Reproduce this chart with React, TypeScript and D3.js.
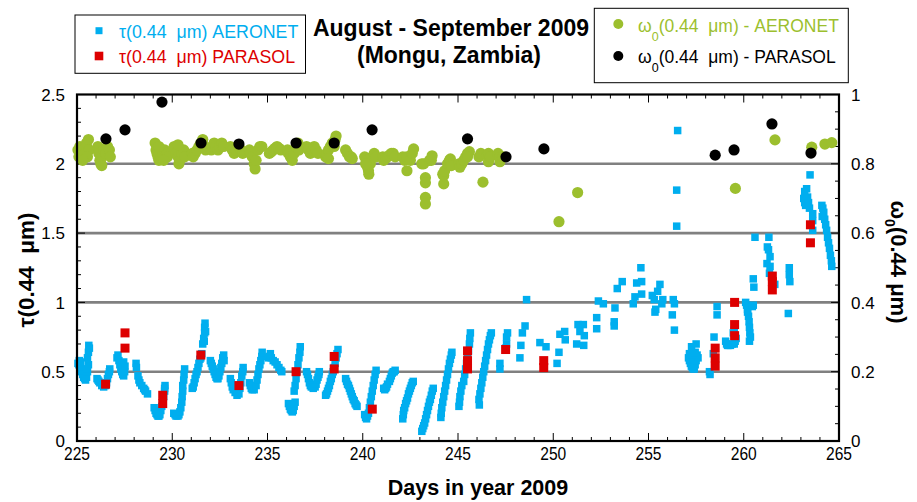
import React from "react";
import * as d3 from "d3";

// ---------------- DATA ----------------
const xTicks = [225, 230, 235, 240, 245, 250, 255, 260, 265];
const yLeftTicks = [0, 0.5, 1, 1.5, 2, 2.5];
const yRightTicks = [0, 0.2, 0.4, 0.6, 0.8, 1];
const gridValues = [0.5, 1, 1.5, 2];

// AERONET AOD at 0.44 µm: [day, tau]
const aeronetTau: [number, number][] = [
  [225.05,0.56],[225.1,0.55],[225.15,0.54],[225.2,0.52],[225.25,0.5],[225.3,0.48],[225.35,0.46],[225.4,0.45],[225.45,0.44],[225.5,0.46],[225.55,0.5],[225.5,0.52],[225.6,0.55],[225.55,0.6],[225.6,0.64],[225.65,0.67],[225.62,0.69],[225.12,0.58],[225.2,0.57],
  [226.05,0.45],[226.1,0.44],[226.15,0.43],[226.2,0.42],[226.3,0.4],[226.4,0.39],[226.5,0.4],[226.55,0.42],[226.6,0.45],[226.65,0.48],[226.7,0.5],[226.72,0.52],
  [227.1,0.6],[227.15,0.62],[227.2,0.58],[227.25,0.55],[227.3,0.52],[227.35,0.5],[227.4,0.48],[227.45,0.47],[227.5,0.5],[227.52,0.54],[227.45,0.57],
  [228.1,0.56],[228.12,0.53],[228.2,0.47],[228.25,0.44],[228.3,0.42],[228.4,0.4],[228.5,0.38],[228.55,0.37],[228.6,0.36],[228.7,0.34],
  [229.05,0.24],[229.1,0.22],[229.15,0.2],[229.2,0.19],[229.25,0.18],[229.3,0.18],[229.35,0.19],[229.4,0.22],[229.45,0.25],[229.5,0.28],[229.55,0.32],[229.6,0.36],[229.62,0.4],[229.6,0.38],
  [230.08,0.2],[230.15,0.19],[230.2,0.18],[230.3,0.18],[230.35,0.19],[230.4,0.21],[230.45,0.24],[230.5,0.28],[230.52,0.32],[230.55,0.36],[230.55,0.4],[230.6,0.44],[230.62,0.48],[230.65,0.52],
  [231.05,0.38],[231.1,0.39],[231.15,0.42],[231.2,0.45],[231.25,0.48],[231.3,0.5],[231.35,0.53],[231.4,0.56],[231.45,0.59],[231.5,0.6],[231.55,0.63],[231.6,0.7],[231.65,0.74],[231.7,0.78],[231.7,0.82],[231.72,0.85],[231.75,0.79],[231.68,0.72],
  [232.0,0.58],[232.05,0.56],[232.1,0.54],[232.15,0.52],[232.2,0.5],[232.25,0.48],[232.3,0.46],[232.35,0.45],[232.4,0.45],[232.45,0.47],[232.5,0.5],[232.55,0.53],[232.6,0.56],[232.65,0.6],[232.7,0.62],[232.72,0.58],
  [233.05,0.45],[233.1,0.42],[233.15,0.39],[233.2,0.37],[233.3,0.35],[233.4,0.33],[233.5,0.34],[233.55,0.38],[233.6,0.42],[233.65,0.47],[233.7,0.5],[233.72,0.53],
  [234.05,0.42],[234.1,0.4],[234.15,0.38],[234.2,0.37],[234.3,0.37],[234.4,0.4],[234.45,0.44],[234.5,0.48],[234.55,0.52],[234.6,0.55],[234.65,0.58],[234.7,0.61],[234.72,0.64],
  [235.05,0.6],[235.1,0.61],[235.2,0.6],[235.3,0.58],[235.4,0.57],[235.5,0.55],[235.6,0.53],[235.7,0.51],[235.75,0.5],[235.15,0.63],
  [236.1,0.27],[236.15,0.25],[236.2,0.23],[236.25,0.22],[236.3,0.21],[236.35,0.22],[236.4,0.25],[236.45,0.28],
  [236.4,0.36],[236.45,0.4],[236.5,0.45],[236.55,0.5],[236.6,0.55],[236.65,0.6],[236.7,0.64],[236.72,0.68],
  [237.05,0.5],[237.1,0.48],[237.15,0.45],[237.2,0.42],[237.25,0.4],[237.3,0.39],[237.4,0.38],[237.5,0.39],[237.55,0.41],[237.6,0.44],[237.65,0.46],[237.7,0.48],[237.72,0.5],
  [238.05,0.33],[238.1,0.34],[238.15,0.36],[238.2,0.38],[238.25,0.4],[238.3,0.43],[238.35,0.45],[238.4,0.48],[238.45,0.5],[238.5,0.53],[238.55,0.56],[238.6,0.6],[238.65,0.63],[238.7,0.66],
  [239.1,0.45],[239.15,0.43],[239.2,0.41],[239.25,0.4],[239.3,0.38],[239.35,0.36],[239.4,0.34],[239.45,0.32],[239.5,0.3],[239.55,0.29],[239.6,0.27],[239.65,0.26],[239.7,0.25],
  [240.1,0.19],[240.15,0.17],[240.2,0.16],[240.25,0.18],[240.3,0.2],[240.35,0.24],[240.4,0.28],[240.45,0.32],[240.5,0.36],[240.55,0.4],[240.6,0.44],[240.65,0.48],[240.7,0.51],
  [241.1,0.38],[241.15,0.37],[241.2,0.38],[241.25,0.39],[241.3,0.41],[241.4,0.43],[241.45,0.45],[241.5,0.47],[241.55,0.49],[241.6,0.5],[241.65,0.5],[241.7,0.51],
  [242.1,0.16],[242.13,0.19],[242.15,0.22],[242.2,0.24],[242.25,0.27],[242.3,0.29],[242.35,0.31],[242.4,0.34],[242.45,0.36],[242.5,0.38],[242.55,0.4],[242.6,0.42],[242.65,0.43],
  [243.1,0.07],[243.15,0.09],[243.2,0.11],[243.25,0.13],[243.3,0.16],[243.35,0.19],[243.4,0.22],[243.45,0.25],[243.5,0.28],[243.55,0.3],[243.6,0.33],[243.65,0.36],[243.7,0.38],
  [244.1,0.17],[244.12,0.2],[244.15,0.24],[244.2,0.28],[244.25,0.32],[244.3,0.36],[244.35,0.4],[244.4,0.44],[244.45,0.48],[244.5,0.52],[244.55,0.56],[244.6,0.59],[244.65,0.62],[244.68,0.64],
  [245.05,0.25],[245.08,0.28],[245.1,0.32],[245.15,0.36],[245.2,0.4],[245.3,0.43],[245.35,0.48],[245.4,0.52],[245.45,0.56],[245.5,0.6],[245.55,0.65],[245.6,0.7],[245.62,0.74],[245.65,0.78],
  [246.1,0.3],[246.12,0.26],[246.15,0.34],[246.2,0.38],[246.25,0.42],[246.3,0.46],[246.35,0.5],[246.4,0.54],[246.45,0.58],[246.5,0.62],[246.55,0.66],[246.6,0.7],[246.65,0.73],[246.7,0.76],[246.75,0.78],
  [247.2,0.56],[247.2,0.52],[247.5,0.67],[247.55,0.7],[247.55,0.75],[247.6,0.78],
  [248.25,0.6],[248.3,0.69],[248.38,0.78],[248.52,0.83],[248.6,1.02],
  [249.3,0.71],[249.62,0.68],[250.2,0.56],[250.3,0.64],[250.35,0.77],[250.6,0.79],[250.63,0.73],
  [251.23,0.7],[251.3,0.84],[251.4,0.79],[251.58,0.84],[251.63,0.76],[251.6,0.69],
  [252.28,0.89],[252.28,0.81],[252.37,1.01],[252.63,0.99],
  [253.2,0.86],[253.2,0.83],[253.24,0.96],[253.36,1.1],[253.62,1.15],
  [254.2,0.99],[254.29,1.04],[254.38,1.14],[254.6,1.25],[254.64,1.06],[254.64,1.15],
  [255.2,1.05],[255.3,1.02],[255.34,0.93],[255.38,0.95],[255.48,1.08],[255.6,1.13],[255.7,0.99],[255.75,1.02],
  [256.25,0.91],[256.3,1.02],[256.36,0.99],[256.36,0.8],[256.48,1.55],[256.48,1.81],[256.53,2.24],
  [257.1,0.6],[257.15,0.58],[257.2,0.56],[257.25,0.54],[257.3,0.53],[257.35,0.52],[257.4,0.52],[257.45,0.55],[257.5,0.58],[257.55,0.62],[257.6,0.6],[257.15,0.63],[257.26,0.68],[257.5,0.7],[257.3,0.62],[257.45,0.64],
  [258.2,0.5],[258.23,0.48],[258.4,0.63],[258.44,0.75],[258.6,0.97],[258.6,0.91],
  [259.05,0.72],[259.1,0.7],[259.15,0.69],[259.2,0.69],[259.3,0.69],[259.4,0.7],[259.5,0.7],[259.55,0.72],[259.6,0.74],[259.45,0.78],[259.5,0.8],
  [260.1,1.0],[260.15,0.98],[260.2,0.95],[260.25,0.9],[260.28,0.86],[260.3,0.82],[260.32,0.78],[260.35,0.75],[260.3,0.72],[260.45,0.97],[260.5,0.98],[260.2,0.93],[260.5,1.17],[260.53,1.11],[260.59,1.47],
  [261.24,1.4],[261.3,1.38],[261.32,1.47],[261.38,1.33],[261.22,1.28],[261.38,1.26],[261.35,1.21],[261.63,1.13],
  [262.39,1.25],[262.39,1.2],[262.42,1.15],[262.34,0.92],
  [263.15,1.75],[263.2,1.72],[263.25,1.7],[263.3,1.73],[263.35,1.76],[263.4,1.72],[263.45,1.68],[263.2,1.8],[263.3,1.82],[263.48,1.92],[263.62,1.64],[263.62,1.59],[263.62,1.52],
  [264.1,1.7],[264.15,1.68],[264.2,1.65],[264.25,1.6],[264.3,1.56],[264.35,1.52],[264.4,1.47],[264.45,1.43],[264.5,1.39],[264.55,1.34],[264.6,1.3],[264.62,1.26],[264.12,1.62],
];

// PARASOL AOD at 0.44 µm: [day, tau]
const parasolTau: [number, number][] = [
  [226.5,0.41],[227.52,0.78],[227.52,0.67],[229.5,0.33],[229.5,0.27],[231.5,0.62],[233.5,0.4],
  [236.5,0.5],[238.5,0.61],[238.5,0.52],[240.5,0.23],[245.5,0.65],[245.5,0.58],[245.5,0.52],
  [247.5,0.66],[249.5,0.58],[249.5,0.53],[258.5,0.67],[258.5,0.6],[258.5,0.54],
  [259.52,1.0],[259.52,0.84],[259.52,0.76],[261.5,1.19],[261.5,1.15],[261.5,1.09],[263.5,1.56],[263.5,1.43],
];

// AERONET single scattering albedo at 0.44 µm: [day, omega0]
const aeronetSsa: [number, number][] = [
  [225.05,0.84],[225.1,0.82],[225.15,0.85],[225.2,0.83],[225.3,0.84],[225.4,0.83],[225.5,0.86],[225.6,0.87],[225.65,0.84],[225.55,0.82],[225.3,0.81],
  [226.1,0.85],[226.15,0.83],[226.2,0.81],[226.25,0.8],[226.3,0.82],[226.4,0.84],[226.5,0.83],[226.6,0.85],[226.7,0.84],[226.75,0.82],[226.3,0.795],
  [229.1,0.86],[229.15,0.84],[229.2,0.83],[229.25,0.82],[229.3,0.81],[229.4,0.82],[229.5,0.83],[229.6,0.84],[229.7,0.83],[229.75,0.82],[229.3,0.85],[229.55,0.81],
  [230.1,0.85],[230.2,0.83],[230.3,0.82],[230.35,0.8],[230.4,0.81],[230.5,0.83],[230.6,0.84],[230.65,0.82],[230.3,0.855],
  [231.05,0.83],[231.1,0.82],[231.2,0.83],[231.3,0.84],[231.4,0.85],[231.5,0.86],[231.6,0.87],[231.7,0.85],[231.75,0.84],
  [232.05,0.84],[232.1,0.85],[232.2,0.86],[232.3,0.85],[232.4,0.84],[232.5,0.85],[232.6,0.86],[232.7,0.85],
  [233.05,0.85],[233.15,0.84],[233.25,0.83],[233.35,0.84],[233.5,0.85],[233.6,0.84],[233.7,0.83],
  [234.05,0.84],[234.1,0.83],[234.2,0.82],[234.3,0.8],[234.35,0.785],[234.4,0.81],[234.5,0.84],[234.6,0.85],[234.7,0.85],
  [235.1,0.83],[235.2,0.835],[235.3,0.84],[235.4,0.845],[235.5,0.85],[235.6,0.845],[235.7,0.84],
  [236.05,0.84],[236.1,0.83],[236.2,0.82],[236.3,0.81],[236.4,0.83],[236.5,0.85],[236.6,0.86],[236.65,0.84],
  [237.05,0.85],[237.15,0.84],[237.25,0.83],[237.35,0.84],[237.45,0.85],[237.55,0.84],[237.65,0.83],
  [238.05,0.82],[238.1,0.83],[238.2,0.84],[238.3,0.85],[238.4,0.86],[238.5,0.85],[238.55,0.87],[238.6,0.88],[238.2,0.815],
  [239.1,0.84],[239.2,0.83],[239.3,0.82],[239.4,0.82],[239.45,0.815],
  [240.1,0.82],[240.2,0.81],[240.25,0.79],[240.3,0.78],[240.32,0.77],[240.4,0.8],[240.5,0.82],[240.6,0.83],[240.7,0.82],[240.15,0.8],
  [241.05,0.82],[241.1,0.81],[241.2,0.815],[241.3,0.82],[241.4,0.825],[241.5,0.83],[241.6,0.83],[241.7,0.82],
  [242.1,0.82],[242.2,0.81],[242.3,0.82],[242.32,0.78],[242.5,0.81],[242.6,0.83],[242.67,0.843],
  [243.1,0.8],[243.2,0.8],[243.29,0.76],[243.29,0.745],[243.29,0.703],[243.29,0.684],[243.5,0.81],[243.6,0.81],[243.64,0.823],
  [244.2,0.77],[244.25,0.742],[244.25,0.766],[244.3,0.78],[244.45,0.8],[244.55,0.81],[244.6,0.814],[244.65,0.795],
  [245.05,0.8],[245.1,0.79],[245.2,0.8],[245.3,0.81],[245.4,0.82],[245.5,0.83],[245.6,0.835],[245.5,0.82],
  [246.1,0.82],[246.2,0.83],[246.31,0.747],[246.5,0.825],[246.6,0.806],[246.6,0.83],[246.7,0.82],
  [247.1,0.83],[247.2,0.82],[247.2,0.806],[247.35,0.82],
  [250.3,0.633],[251.28,0.717],[259.56,0.729],[261.64,0.869],[263.57,0.848],[264.26,0.857],[264.62,0.861],
];

// PARASOL single scattering albedo at 0.44 µm: [day, omega0]
const parasolSsa: [number, number][] = [
  [226.52,0.872],[227.52,0.898],[229.46,0.978],[231.51,0.86],[233.5,0.857],[236.5,0.86],[238.5,0.86],
  [240.49,0.898],[245.5,0.872],[247.52,0.82],[249.51,0.843],[258.5,0.825],[259.49,0.84],[261.48,0.915],[263.53,0.831],
];

// ---------------- STYLE ----------------
const W = 917, H = 502;
const PL = 77, PR = 839, PT = 94.5, PB = 441;
const BLUE = "#00aeef";
const RED = "#dd0000";
const GREEN = "#9cbf2e";
const FONT = "'Liberation Sans', Arial, sans-serif";

export default function App() {
  const x = d3.scaleLinear().domain([225, 265]).range([PL, PR]);
  const yL = d3.scaleLinear().domain([0, 2.5]).range([PB, PT]);
  const yR = d3.scaleLinear().domain([0, 1]).range([PB, PT]);

  const xMinor = d3.range(225, 266, 1);
  const yLMinor = d3.range(0, 2.5001, 0.1);
  const yRMinor = d3.range(0, 1.0001, 0.05);

  const blueS = 7.5, redS = 9, rG = 5.6, rK = 5.6;

  return (
    <svg width={W} height={H} style={{ position: "absolute", left: 0, top: 0, fontFamily: FONT }}>
      <rect x={0} y={0} width={W} height={H} fill="#fff" />
      {/* gridlines */}
      {gridValues.map((v) => (
        <line key={"g" + v} x1={PL} x2={PR} y1={yL(v)} y2={yL(v)} stroke="#808080" strokeWidth={2.6} />
      ))}
      {/* ticks */}
      {xMinor.map((d) => {
        const major = d % 5 === 0;
        const len = major ? 8 : 4;
        return (
          <g key={"xt" + d}>
            <line x1={x(d)} x2={x(d)} y1={PB} y2={PB - len} stroke="#000" strokeWidth={1} />
            <line x1={x(d)} x2={x(d)} y1={PT} y2={PT + len} stroke="#000" strokeWidth={1} />
          </g>
        );
      })}
      {yLMinor.map((d, i) => {
        const major = i % 5 === 0;
        return <line key={"yl" + i} x1={PL} x2={PL + (major ? 8 : 4)} y1={yL(d)} y2={yL(d)} stroke="#000" strokeWidth={1} />;
      })}
      {yRMinor.map((d, i) => {
        const major = i % 4 === 0;
        return <line key={"yr" + i} x1={PR} x2={PR - (major ? 8 : 4)} y1={yR(d)} y2={yR(d)} stroke="#000" strokeWidth={1} />;
      })}

      {/* SSA */}
      {aeronetSsa.map(([d, v], i) => (
        <circle key={"ga" + i} cx={x(d)} cy={yR(v)} r={rG} fill={GREEN} />
      ))}
      {parasolSsa.map(([d, v], i) => (
        <circle key={"ka" + i} cx={x(d)} cy={yR(v)} r={rK} fill="#000" />
      ))}
      {/* AOD */}
      {aeronetTau.map(([d, v], i) => (
        <rect key={"ba" + i} x={x(d) - blueS / 2} y={yL(v) - blueS / 2} width={blueS} height={blueS} fill={BLUE} />
      ))}
      {parasolTau.map(([d, v], i) => (
        <rect key={"ra" + i} x={x(d) - redS / 2} y={yL(v) - redS / 2} width={redS} height={redS} fill={RED} />
      ))}

      {/* frame */}
      <rect x={PL} y={PT} width={PR - PL} height={PB - PT} fill="none" stroke="#000" strokeWidth={2.2} />

      {/* tick labels */}
      {yLeftTicks.map((t) => (
        <text key={"lt" + t} x={65} y={yL(t)} dy="0.36em" textAnchor="end" fontSize={17}>{String(t)}</text>
      ))}
      {yRightTicks.map((t) => (
        <text key={"rt" + t} x={851} y={yR(t)} dy="0.36em" textAnchor="start" fontSize={17}>{String(t)}</text>
      ))}
      {xTicks.map((t) => (
        <text key={"xt" + t} transform={`translate(${x(t)},460) scale(0.82,1)`} textAnchor="middle" fontSize={19}>{String(t)}</text>
      ))}

      {/* axis titles */}
      <text transform="translate(478,495)" textAnchor="middle" fontSize={21.5} fontWeight="bold">Days in year 2009</text>
      <text transform="translate(34,270) rotate(-90)" textAnchor="middle" fontSize={22.5} fontWeight="bold" style={{ whiteSpace: "pre" }}>{"τ(0.44  μm)"}</text>
      <text transform="translate(891,262) rotate(90)" textAnchor="middle" fontSize={22} fontWeight="bold">
        ω<tspan fontSize={14} dy={6}>0</tspan><tspan dy={-6}>(0.44 μm)</tspan>
      </text>

      {/* title */}
      <text x={451} y={36} textAnchor="middle" fontSize={23} fontWeight="bold">August - September 2009</text>
      <text x={449} y={63} textAnchor="middle" fontSize={23} fontWeight="bold">(Mongu, Zambia)</text>

      {/* legend 1 */}
      <rect x={75} y={15} width={230.5} height={58.3} fill="#fff" stroke="#000" strokeWidth={1} />
      <rect x={99 - 3.5} y={30.7 - 3.5} width={7} height={7} fill={BLUE} />
      <text x={119} y={37.7} fontSize={17.8} fill={BLUE} style={{ whiteSpace: "pre" }}>{"τ(0.44  μm) AERONET"}</text>
      <rect x={99 - 4.3} y={56 - 4.3} width={8.6} height={8.6} fill={RED} />
      <text x={119} y={63.3} fontSize={17.8} fill={RED} style={{ whiteSpace: "pre" }}>{"τ(0.44  μm) PARASOL"}</text>

      {/* legend 2 */}
      <rect x={594.3} y={8.3} width={254} height={74.4} fill="#fff" stroke="#000" strokeWidth={1} />
      <circle cx={618.3} cy={24} r={5} fill={GREEN} />
      <text x={638} y={31.5} fontSize={17.5} fill={GREEN} style={{ whiteSpace: "pre" }}>
        ω<tspan fontSize={12.5} dy={9}>0</tspan><tspan dy={-9}>{"(0.44  μm) - AERONET"}</tspan>
      </text>
      <circle cx={618.3} cy={56} r={5} fill="#000" />
      <text x={638} y={63.3} fontSize={17.5} fill="#000" style={{ whiteSpace: "pre" }}>
        ω<tspan fontSize={12.5} dy={9}>0</tspan><tspan dy={-9}>{"(0.44  μm) - PARASOL"}</tspan>
      </text>
    </svg>
  );
}
